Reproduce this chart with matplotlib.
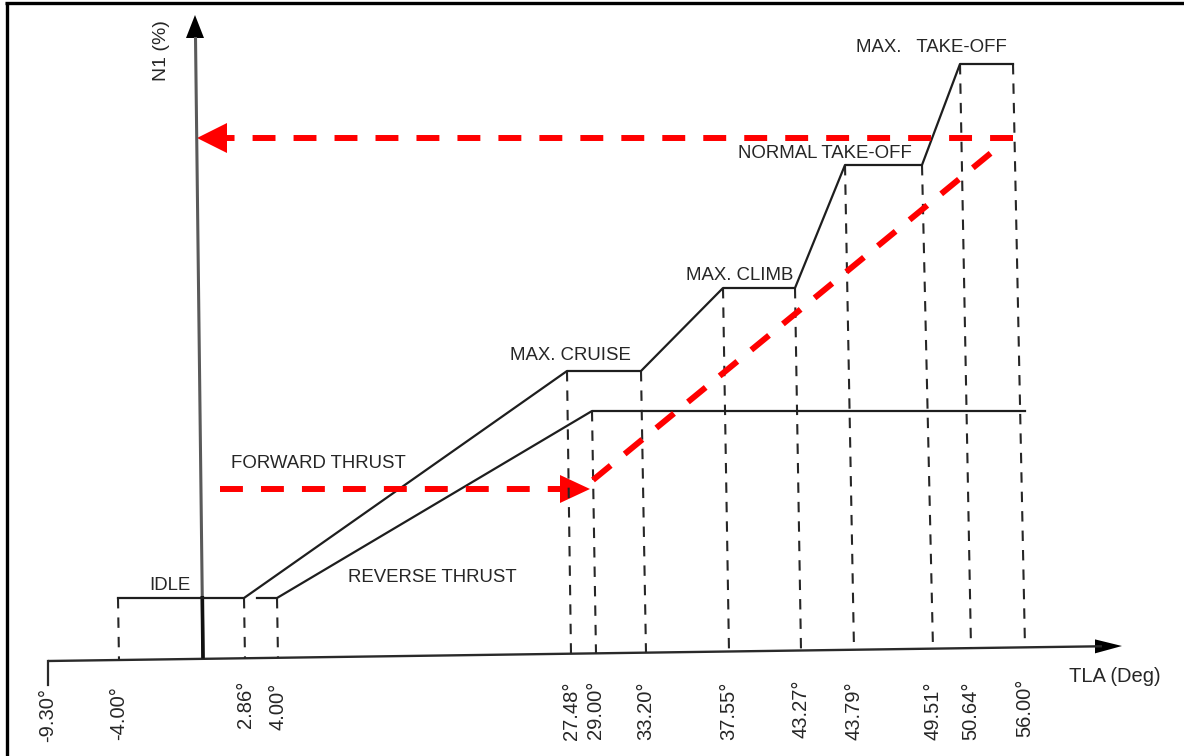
import matplotlib
matplotlib.use("Agg")
import matplotlib.pyplot as plt
from matplotlib.patches import Polygon

plt.rcParams['font.family'] = ['Liberation Sans', 'DejaVu Sans']
plt.rcParams['lines.scale_dashes'] = False

# ---------------- data (schematic N1 vs TLA diagram) ----------------
tla_values = [-9.30, -4.00, 2.86, 4.00, 27.48, 29.00, 33.20, 37.55, 43.27, 43.79, 49.51, 50.64, 56.00]
tla_labels = ["-9.30°", "-4.00°", "2.86°", "4.00°", "27.48°", "29.00°", "33.20°",
              "37.55°", "43.27°", "43.79°", "49.51°", "50.64°", "56.00°"]

# schematic N1 levels (diagram height units)
n1_idle = 62
n1_reverse_max = 249
n1_max_cruise = 289
n1_max_climb = 372
n1_normal_to = 495
n1_max_to = 596
n1_start = 171
n1_target = 522

regime_labels = ["MAX.   TAKE-OFF", "NORMAL TAKE-OFF", "MAX. CLIMB", "MAX. CRUISE",
                 "FORWARD THRUST", "REVERSE THRUST", "IDLE"]

# ---------------- layout (schematic, non-linear TLA axis) ----------------
tick_x = [48, 119, 245, 278, 571, 596, 646, 729, 801, 854, 933, 971, 1025]
label_top = [-28, -26, -21, -23, -21, -21, -21, -22, -19, -21, -21, -22, -19]
# where each dashed guide meets the curve (scan is slightly skewed)
guide_top_x = [None, 118, 244, 277, 567, 592, 641, 723, 795, 845, 922, 960, 1013]
guide_top_y = [None, n1_idle, n1_idle, n1_idle, n1_max_cruise, n1_reverse_max, n1_max_cruise,
               n1_max_climb, n1_max_climb, n1_normal_to, n1_normal_to, n1_max_to, n1_max_to]

fwd_idx = (1, 2, 4, 6, 7, 8, 9, 10, 11, 12)
fwd_x = [guide_top_x[i] for i in fwd_idx]
fwd_y = [guide_top_y[i] for i in fwd_idx]
rev_x = [257, guide_top_x[3], guide_top_x[5], 1025]
rev_y = [n1_idle, n1_idle, n1_reverse_max, n1_reverse_max]

label_pos = [(931, 612), (825, 507), (740, 385), (570, 305), (318, 196), (432, 82), (170, 75)]

ink = '#1e1e1e'
txt = '#262626'
red = '#ff0000'

fig = plt.figure(figsize=(11.84, 7.56), dpi=100)
ax = fig.add_axes([0, 0, 1, 1])
ax.set_xlim(0, 1184)
ax.set_ylim(-96, 660)
ax.axis('off')

# frame (left and top border of the scanned figure)
ax.plot([0.0055, 0.0055], [0, 0.997], transform=ax.transAxes, color='black', lw=2.4, solid_capstyle='butt')
ax.plot([0.004, 1.0], [0.9955, 0.9955], transform=ax.transAxes, color='black', lw=2.4, solid_capstyle='butt')

# x axis (slightly tilted, as in the scan)
x_ax0, x_ax1 = 48, 1122
y_ax0, y_ax1 = -1, 14
def axis_y(x):
    return y_ax0 + (x - x_ax0) * (y_ax1 - y_ax0) / (x_ax1 - x_ax0)
ax.plot([x_ax0, x_ax1 - 20], [y_ax0, axis_y(x_ax1 - 20)], color='#2a2a2a', lw=1.7, solid_capstyle='butt')
ax.add_patch(Polygon([[x_ax1, y_ax1], [x_ax1 - 27, axis_y(x_ax1 - 27) + 7], [x_ax1 - 27, axis_y(x_ax1 - 27) - 7]],
                     closed=True, color='black', lw=0))
# short tick at -9.30
ax.plot([tick_x[0], tick_x[0]], [y_ax0, -25], color='#2a2a2a', lw=1.6)

# y axis
ax.plot([195.5, 203], [623, axis_y(203)], color='#5a5a5a', lw=2.2, solid_capstyle='butt')
ax.plot([202.3, 203], [n1_idle + 2, axis_y(203)], color='#111111', lw=2.6, solid_capstyle='butt')
ax.add_patch(Polygon([[195, 645], [186, 622], [204, 622]], closed=True, color='black', lw=0))

# dashed guides
for i in range(1, len(tick_x)):
    ax.plot([guide_top_x[i], tick_x[i]], [guide_top_y[i], axis_y(tick_x[i])],
            color='#262626', lw=1.5, dashes=(7.5, 6.5))

# curves
ax.plot(fwd_x, fwd_y, color=ink, lw=1.6, solid_joinstyle='round')
ax.plot(rev_x, rev_y, color=ink, lw=1.6, solid_joinstyle='round')

# tick labels
for xv, yt, lab in zip(tick_x, label_top, tla_labels):
    ax.text(xv, yt, lab, rotation=90, ha='center', va='top', fontsize=14.5, color=txt)

ax.text(1115, -16, "TLA (Deg)", ha='center', va='center', fontsize=14.5, color=txt)
ax.text(161, 609, "N1 (%)", rotation=90, ha='center', va='center', fontsize=14, color=txt)

for lab, (lx, ly) in zip(regime_labels, label_pos):
    ax.text(lx, ly, lab, ha='center', va='center', fontsize=13.4, color=txt)

# red dashed path with arrows
red_dash = (16.5, 13)
lw_red = 4.3
# lower horizontal, to the right
x0, x1 = 220, 590
ax.plot([x0, x1 - 28], [n1_start, n1_start], color=red, lw=lw_red, dashes=red_dash, dash_capstyle='butt')
ax.add_patch(Polygon([[x1, n1_start], [x1 - 30, n1_start + 14], [x1 - 30, n1_start - 14]], closed=True, color=red, lw=0))
# diagonal
ax.plot([593, 997], [180, 512], color=red, lw=lw_red, dashes=red_dash, dash_capstyle='butt')
# top horizontal, to the left towards N1 axis
x0, x1 = 1013, 197
ax.plot([x0, x1 + 28], [n1_target, n1_target], color=red, lw=lw_red, dashes=red_dash, dash_capstyle='butt')
ax.add_patch(Polygon([[x1, n1_target], [x1 + 30, n1_target + 15], [x1 + 30, n1_target - 15]], closed=True, color=red, lw=0))

fig.savefig("out.png", dpi=100)
